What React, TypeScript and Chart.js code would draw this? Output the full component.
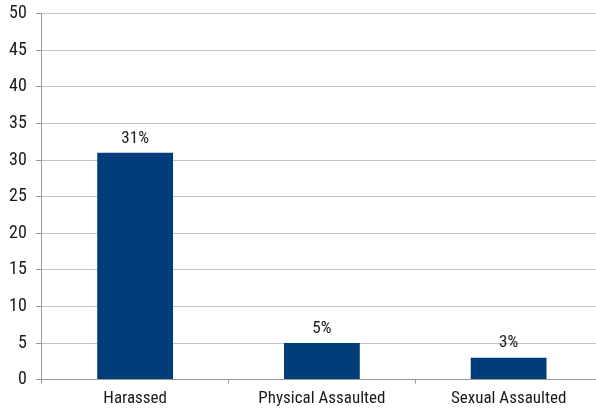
import React, { useEffect, useRef } from "react";
import { Chart, registerables } from "chart.js";

Chart.register(...registerables);

const categories = ["Harassed", "Physical Assaulted", "Sexual Assaulted"];
const values = [31, 5, 3];
const valueLabels = ["31%", "5%", "3%"];
const yTicks = [0, 5, 10, 15, 20, 25, 30, 35, 40, 45, 50];

const FONT = "'Liberation Sans Narrow', 'Roboto Condensed', 'Arial Narrow', sans-serif";

const labelPlugin = {
  id: "valueLabels",
  afterDatasetsDraw(chart: any) {
    const ctx = chart.ctx;
    const meta = chart.getDatasetMeta(0);
    ctx.save();
    ctx.font = `17px ${FONT}`;
    ctx.fillStyle = "#1a1a1a";
    ctx.textAlign = "center";
    ctx.textBaseline = "bottom";
    meta.data.forEach((bar: any, i: number) => {
      ctx.fillText(valueLabels[i], bar.x, bar.y - 6);
    });
    ctx.restore();
  },
};

export default function App() {
  const ref = useRef<HTMLCanvasElement>(null);
  useEffect(() => {
    if (!ref.current) return;
    const chart = new Chart(ref.current, {
      type: "bar",
      data: {
        labels: categories,
        datasets: [
          {
            data: values,
            backgroundColor: "#023d7b",
            borderWidth: 0,
            barPercentage: 0.406,
            categoryPercentage: 1,
          },
        ],
      },
      options: {
        animation: false,
        responsive: false,
        maintainAspectRatio: false,
        layout: { padding: { top: 0, right: 0, left: 0, bottom: 0 } },
        plugins: {
          legend: { display: false },
          tooltip: { enabled: false },
        },
        scales: {
          x: {
            offset: true,
            grid: {
              offset: true,
              drawOnChartArea: false,
              drawTicks: true,
              tickLength: 4,
              color: "#999999",
            },
            border: { color: "#999999", width: 1 },
            ticks: {
              color: "#1a1a1a",
              font: { family: FONT, size: 17 },
              padding: 5,
              maxRotation: 0,
            },
          },
          y: {
            min: 0,
            max: 50,
            afterBuildTicks: (axis: any) => {
              axis.ticks = yTicks.map((v) => ({ value: v }));
            },
            grid: {
              color: "#c4c4c4",
              tickLength: 6,
              tickColor: "#999999",
            },
            border: { color: "#999999", width: 1 },
            ticks: {
              color: "#1a1a1a",
              font: { family: FONT, size: 18 },
              padding: 9,
            },
          },
        },
      },
      plugins: [labelPlugin],
    });
    return () => chart.destroy();
  }, []);
  return (
    <div
      style={{
        position: "fixed",
        left: 0,
        top: 0,
        width: 596,
        height: 408,
        overflow: "hidden",
        background: "#fff",
      }}
    >
      <canvas
        ref={ref}
        width={602}
        height={420}
        style={{ display: "block", marginTop: -6 }}
      />
    </div>
  );
}
